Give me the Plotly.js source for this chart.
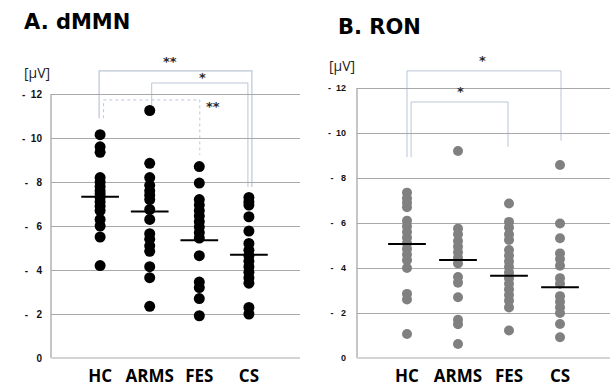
<!DOCTYPE html>
<html><head><meta charset="utf-8">
<script src="https://cdn.plot.ly/plotly-3.0.1.min.js"></script>
<style>html,body{margin:0;padding:0;background:#fff}#chart{width:610px;height:387px}</style>
</head><body><div id="chart"></div>
<script>
// ---- data ----
const groups = ["HC", "ARMS", "FES", "CS"];
const yTickVals = [0, 2, 4, 6, 8, 10, 12];
const yTickText = ["0", "-\u00a0\u00a0\u00a02", "-\u00a0\u00a0\u00a04", "-\u00a0\u00a0\u00a06", "-\u00a0\u00a0\u00a08", "-\u00a0\u00a010", "-\u00a0\u00a012"];

const dmmnHC   = [10.15, 9.6, 9.35, 8.2, 8.0, 7.8, 7.6, 7.45, 7.3, 7.1, 6.9, 6.7, 6.3, 6.0, 5.5, 4.2];
const dmmnARMS = [11.25, 8.85, 8.2, 7.85, 7.6, 7.4, 7.2, 6.75, 6.3, 5.65, 5.4, 5.1, 4.85, 4.15, 3.65, 2.35];
const dmmnFES  = [8.7, 7.95, 7.2, 6.95, 6.7, 6.45, 6.2, 5.95, 5.7, 5.45, 4.65, 3.45, 3.2, 2.7, 1.92];
const dmmnCS   = [7.3, 7.1, 6.95, 6.42, 5.77, 5.21, 4.9, 4.65, 4.4, 4.15, 3.9, 3.65, 3.4, 2.3, 2.0];
const dmmnMeans = [7.33, 6.66, 5.35, 4.69];

const ronHC   = [7.35, 7.1, 6.9, 6.7, 6.1, 5.85, 5.6, 5.35, 5.1, 4.85, 4.6, 4.35, 4.0, 2.85, 2.6, 1.07];
const ronARMS = [9.2, 5.75, 5.5, 5.2, 4.95, 4.7, 4.45, 4.2, 3.6, 3.35, 2.7, 1.7, 1.5, 0.62];
const ronFES  = [6.87, 6.05, 5.8, 5.5, 5.25, 4.8, 4.55, 4.3, 4.05, 3.8, 3.55, 3.3, 3.05, 2.8, 2.55, 2.25, 1.22];
const ronCS   = [8.58, 5.98, 5.32, 4.65, 4.4, 4.1, 3.55, 3.3, 2.75, 2.5, 2.25, 2.0, 1.51, 0.92];
const ronMeans = [5.07, 4.36, 3.66, 3.15];

const panelTitles = ["A. dMMN", "B. RON"];
const unitLabel = "[\u03bcV]";

// ---- build ----
const W = 610, H = 387;
const px = v => v / W, py = v => 1 - v / H;

const dmmnSets = [dmmnHC, dmmnARMS, dmmnFES, dmmnCS];
const ronSets = [ronHC, ronARMS, ronFES, ronCS];

const traces = [];
dmmnSets.forEach((vals, g) => traces.push({
  type: 'scatter', mode: 'markers', xaxis: 'x', yaxis: 'y',
  x: vals.map(() => g), y: vals,
  marker: {color: '#000000', size: 11}, cliponaxis: false, hoverinfo: 'skip'
}));
ronSets.forEach((vals, g) => traces.push({
  type: 'scatter', mode: 'markers', xaxis: 'x2', yaxis: 'y2',
  x: vals.map(() => g), y: vals,
  marker: {color: '#808080', size: 10}, cliponaxis: false, hoverinfo: 'skip'
}));

const shapes = [];
const annotations = [];
const bracketColor = '#bcc6d6';

function meanLines(means, xr, yr, half) {
  means.forEach((m, g) => shapes.push({
    type: 'line', xref: xr, yref: yr, x0: g - half, x1: g + half, y0: m, y1: m,
    line: {color: '#000000', width: 2}, layer: 'above'
  }));
}
meanLines(dmmnMeans, 'x', 'y', 0.38);
meanLines(ronMeans, 'x2', 'y2', 0.37);

function bracket(xr, yr, xa, ya, xb, yb, yt, dash, width) {
  shapes.push({
    type: 'path', xref: xr, yref: yr,
    path: `M ${xa},${ya} L ${xa},${yt} L ${xb},${yt} L ${xb},${yb}`,
    line: {color: bracketColor, width: width || 1, dash: dash || 'solid'}, layer: 'below'
  });
}
function star(xr, yr, x, y, txt) {
  annotations.push({xref: xr, yref: yr, x: x, y: y, text: txt, showarrow: false,
    font: {family: 'DejaVu Sans', size: 13, weight: 'bold', color: '#2a2a2a'}});
}
// Panel A brackets
bracket('x', 'y', -0.02, 10.9, 3.06, 7.77, 13.05, 'solid', 1.2);
bracket('x', 'y', 1.04, 11.36, 2.98, 7.77, 12.5, 'solid', 1);
bracket('x', 'y', 0.07, 10.9, 2.01, 9.23, 11.73, 'dot', 1);
star('x', 'y', 1.41, 13.5, '**');
star('x', 'y', 2.07, 12.75, '*');
star('x', 'y', 2.28, 11.45, '**');
// Panel B brackets
bracket('x2', 'y2', 0.0, 8.93, 3.02, 9.66, 12.76, 'solid', 1);
bracket('x2', 'y2', 0.08, 8.93, 1.98, 9.38, 11.38, 'solid', 1);
star('x2', 'y2', 1.48, 13.2, '*');
star('x2', 'y2', 1.04, 11.85, '*');

// vertical axis lines (only up to 12)
[['x', 'y'], ['x2', 'y2']].forEach(([xr, yr]) => shapes.push({
  type: 'line', xref: xr + ' domain', yref: yr, x0: 0, x1: 0, y0: 0, y1: 12,
  line: {color: '#8c8c8c', width: 1}, layer: 'below'
}));

// titles
annotations.push({xref: 'paper', yref: 'paper', x: px(22), y: py(22), xanchor: 'left', yanchor: 'middle',
  text: panelTitles[0], showarrow: false, font: {family: 'DejaVu Sans', size: 21, weight: 'bold', color: '#000'}});
annotations.push({xref: 'paper', yref: 'paper', x: px(336), y: py(27), xanchor: 'left', yanchor: 'middle',
  text: panelTitles[1], showarrow: false, font: {family: 'DejaVu Sans', size: 21, weight: 'bold', color: '#000'}});
annotations.push({xref: 'paper', yref: 'paper', x: px(22), y: py(72), xanchor: 'left', yanchor: 'middle',
  text: unitLabel, showarrow: false, font: {family: 'Open Sans', size: 14, color: '#222'}});
annotations.push({xref: 'paper', yref: 'paper', x: px(327), y: py(65), xanchor: 'left', yanchor: 'middle',
  text: unitLabel, showarrow: false, font: {family: 'Open Sans', size: 14, color: '#222'}});

const catFont = {family: 'Open Sans', size: 17, weight: 'bold', color: '#000'};
const yAxisBase = {
  tickvals: yTickVals, ticktext: yTickText, ticks: '', showgrid: true, gridcolor: '#a8a8a8', gridwidth: 1,
  zeroline: true, zerolinecolor: '#d4d4d4', zerolinewidth: 2, showline: false, fixedrange: true
};
const xAxisBase = {
  tickvals: [0, 1, 2, 3], ticktext: groups, ticks: '', showgrid: false, zeroline: false,
  showline: false, tickfont: catFont, ticklabelstandoff: 6, fixedrange: true
};

const layout = {
  width: W, height: H, autosize: false,
  margin: {l: 0, r: 0, t: 0, b: 0, pad: 0},
  paper_bgcolor: '#ffffff', plot_bgcolor: 'rgba(0,0,0,0)', showlegend: false,
  xaxis: Object.assign({}, xAxisBase, {domain: [px(51), px(300)], range: [-0.99, 4.03], anchor: 'y'}),
  yaxis: Object.assign({}, yAxisBase, {domain: [py(358), py(56.6)], range: [0, 13.7], anchor: 'x',
    tickfont: {family: 'Liberation Sans', size: 10, weight: 'bold', color: '#111'}, ticklabelstandoff: 8}),
  xaxis2: Object.assign({}, xAxisBase, {domain: [px(357), px(610)], range: [-0.98, 3.98], anchor: 'y2'}),
  yaxis2: Object.assign({}, yAxisBase, {domain: [py(358), py(54.25)], range: [0, 13.5], anchor: 'x2',
    tickfont: {family: 'Liberation Sans', size: 9, weight: 'bold', color: '#111'}, ticklabelstandoff: 10}),
  shapes: shapes, annotations: annotations
};

Plotly.newPlot('chart', traces, layout, {displayModeBar: false, staticPlot: true});
</script></body></html>
